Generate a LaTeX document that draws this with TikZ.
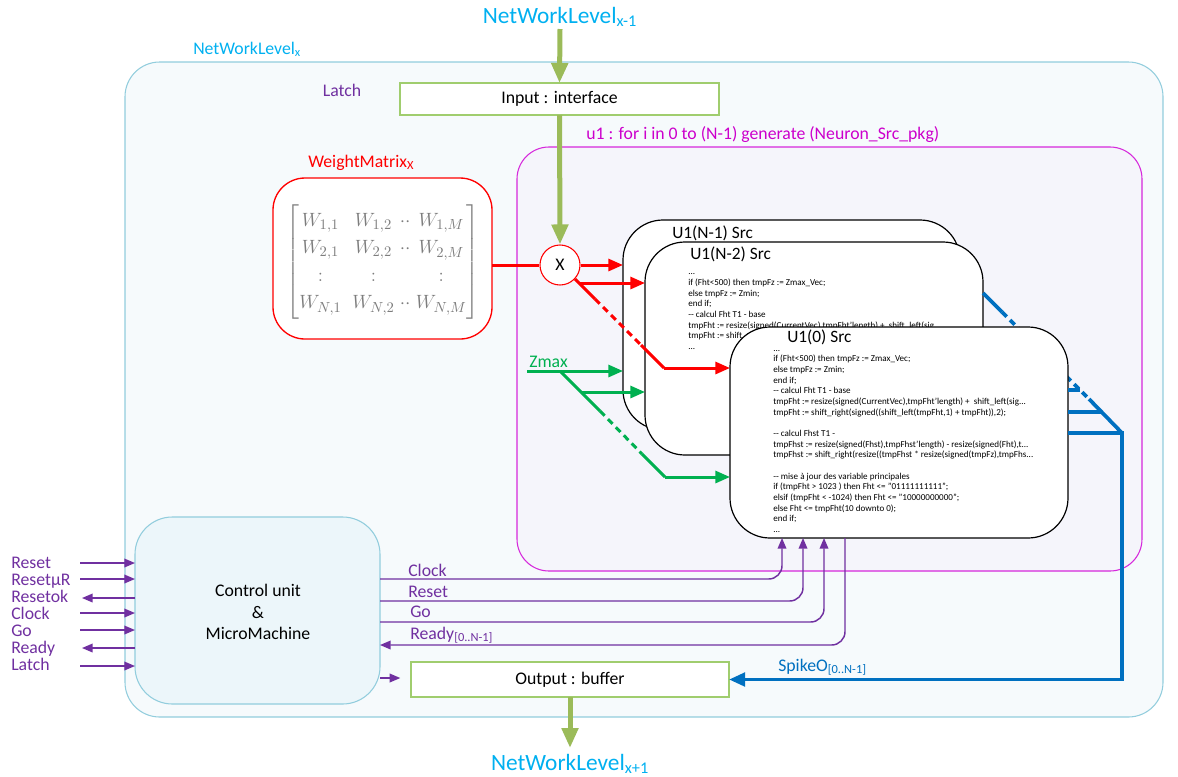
\documentclass[tikz,border=0pt]{standalone}
\usepackage{amsmath}
\usepackage{fontspec}
\setmainfont{Carlito}
\usetikzlibrary{arrows.meta,fit,calc}
\definecolor{outerln}{RGB}{146,205,221}
\definecolor{outerbg}{RGB}{246,250,252}
\definecolor{cubg}{RGB}{236,246,250}
\definecolor{magln}{RGB}{214,40,220}
\definecolor{magbg}{RGB}{245,245,251}
\definecolor{magtxt}{RGB}{204,0,204}
\definecolor{cyantxt}{RGB}{0,176,240}
\definecolor{purp}{RGB}{112,48,160}
\definecolor{netgreen}{RGB}{155,187,89}
\definecolor{iogreen}{RGB}{160,205,110}
\definecolor{zgreen}{RGB}{0,176,80}
\definecolor{spblue}{RGB}{0,112,192}
\definecolor{wmgray}{RGB}{125,125,125}
\newcommand\lblf{\fontsize{13.3}{16}\selectfont}
\newcommand\bigtf{\fontsize{17.5}{21}\selectfont}
\newcommand\titf{\fontsize{13}{15}\selectfont}
\newcommand\codef{\fontsize{6.8}{8}\selectfont}
\begin{document}
\begin{tikzpicture}[x=0.75pt,y=-0.75pt,
  plainbox/.style={inner sep=0pt,outer sep=0pt},
  outerbox/.style={plainbox,draw=outerln,fill=outerbg,line width=0.8pt,rounded corners=26pt},
  cubox/.style={plainbox,draw=outerln,fill=cubg,line width=0.8pt,rounded corners=28pt},
  magbox/.style={plainbox,draw=magln,fill=magbg,line width=0.8pt,rounded corners=24pt},
  wmbox/.style={plainbox,draw=red,fill=white,line width=1pt,rounded corners=24pt},
  iobox/.style={plainbox,draw=iogreen,fill=white,line width=0.9pt},
  srcbox/.style={plainbox,draw=black,fill=white,line width=0.9pt,rounded corners=30pt},
  lbl/.style={font=\lblf,inner sep=0pt},
  codetxt/.style={font=\codef,align=left,inner sep=0pt,anchor=north west},
  srctitle/.style={font=\titf,inner sep=0pt,anchor=base west},
  bigarrow/.style={draw=netgreen,line width=3.75pt,-{Triangle[length=15pt,width=12pt]}},
  redline/.style={draw=red,line width=2.25pt},
  redarrow/.style={redline,-{Triangle[length=11pt,width=9pt]}},
  grline/.style={draw=zgreen,line width=2.25pt},
  grarrow/.style={grline,-{Triangle[length=11pt,width=9pt]}},
  dashpart/.style={dash pattern=on 5pt off 3.5pt},
  blueline/.style={draw=spblue,line width=2.8pt},
  sig/.style={draw=purp,line width=1.1pt},
  sigarrow/.style={sig,-{Triangle[length=8pt,width=6.5pt]}}
]
\useasboundingbox (0,0) rectangle (1178,776);

% outer level box
\node[outerbox,fit={(125,62) (1163,717)}] (outer) {};
\node[lbl,text=cyantxt,anchor=base west] (lvx) at (193,54) {NetWorkLevel\textsubscript{x}};
\node[lbl,text=purp,anchor=base] (latchlbl) at (342,96) {Latch};

% top level and input
\node[font=\bigtf,text=cyantxt,anchor=base,inner sep=0pt] (toplvl) at (560,23) {NetWorkLevel\textsubscript{x-1}};
\coordinate (topa) at (560,29);
\node[iobox,fit={(400,83) (719,115)}] (in) {};
\node[lbl] (intxt) at (in) {Input : interface};
\draw[bigarrow] (topa) -- (in.north);

% generate box
\node[magbox,fit={(517,147) (1142,571)}] (gen) {};
\node[lbl,text=magtxt,anchor=base west] (genlbl) at (586,139) {u1 : for i in 0 to (N-1) generate (Neuron\_Src\_pkg)};

% weight matrix
\node[lbl,text=red,anchor=base west] (wmlbl) at (308,167) {WeightMatrix\textsubscript{X}};
\node[wmbox,fit={(273,178) (492,339)}] (wm) {};
\node[inner sep=0pt,text=wmgray,font=\fontsize{15}{18}\selectfont] (mat) at (383,262)
 {\def\arraystretch{1.15}\setlength{\arraycolsep}{4pt}%
  $\begin{bmatrix} W_{1,1} & W_{1,2} & \!\!\cdot\cdot\!\! & W_{1,M}\\
   W_{2,1} & W_{2,2} & \!\!\cdot\cdot\!\! & W_{2,M}\\
   : & : & & :\\
   W_{N,1} & W_{N,2} & \!\!\cdot\cdot\!\! & W_{N,M}\end{bmatrix}$};

% multiplier
\node[circle,draw=red,fill=white,line width=0.8pt,minimum size=30pt,inner sep=0pt,font=\lblf] (mult) at (560,265) {X};
\draw[bigarrow] (in.south) -- (mult.north);
\draw[redline] (wm.east |- mult.west) -- (mult.west);

% neuron boxes
\node[srcbox,fit={(623,220) (960,430)}] (n1) {};
\node[srctitle] (n1t) at (672,238) {U1(N-1) Src};
\node[srcbox,fit={(645,242) (983,455)}] (n2) {};
\node[srctitle] (n2t) at (690,259) {U1(N-2) Src};
\node[codetxt] (n2c) at (688,267) {\strut...\\
if (Fht<500) then tmpFz := Zmax\_Vec;\\
else tmpFz := Zmin;\\
end if;\\
-{}- calcul Fht T1 - base\\
tmpFht := resize(signed(CurrentVec),tmpFht'length) +\ \ shift\_left(sig...\\
tmpFht := shift\_right(signed((shift\_left(tmpFht,1) + tmpFht)),2);\\
...};

% spike lines (behind U1(0))
\coordinate (b1) at (1002,312);
\coordinate (b2) at (1089,399);
\coordinate (bc) at (1122,433);
\draw[blueline] (n2.east |- 0,293) -- (b1);
\draw[blueline,dashpart] (b1) -- (b2);
\draw[blueline] (b2) -- (bc);

\node[srcbox,fit={(730,327) (1068,538)}] (u0) {};
\node[srctitle] (u0t) at (787,342) {U1(0) Src};
\node[codetxt] (u0c) at (773,343.5) {\strut...\\
if (Fht<500) then tmpFz := Zmax\_Vec;\\
else tmpFz := Zmin;\\
end if;\\
-{}- calcul Fht T1 - base\\
tmpFht := resize(signed(CurrentVec),tmpFht'length) +\ \ shift\_left(sig...\\
tmpFht := shift\_right(signed((shift\_left(tmpFht,1) + tmpFht)),2);\\[8pt]
-{}- calcul Fhst T1 -\\
tmpFhst := resize(signed(Fhst),tmpFhst'length) - resize(signed(Fht),t...\\
tmpFhst := shift\_right(resize((tmpFhst * resize(signed(tmpFz),tmpFhs...\\[8pt]
-{}- mise à jour des variable principales\\
if (tmpFht > 1023 ) then Fht <= "01111111111";\\
elsif (tmpFht < -1024) then Fht <= "10000000000";\\
else Fht <= tmpFht(10 downto 0);\\
end if;\\
...};

\coordinate (h1) at (1080,390);
\coordinate (h2) at (1101,412);
\draw[blueline] (u0.east |- h1) -- (h1);
\draw[blueline] (u0.east |- h2) -- (h2);

% red weight distribution
\coordinate (r0) at (575,279);
\coordinate (r1) at (595,299);
\coordinate (r2) at (641,345);
\coordinate (r3) at (664,368);
\coordinate (r4) at (579,283);
\draw[redarrow] (mult.east) -- (n1.west |- mult.east);
\draw[redarrow] (r4) -- (n2.west |- r4);
\draw[redline] (r0) -- (r1);
\draw[redline,dashpart] (r1) -- (r2);
\draw[redline,line join=round] (r2) -- (r3);
\draw[redarrow] (r3) -- (u0.west |- r3);

% Zmax distribution
\node[lbl,text=zgreen,anchor=base west] (zmax) at (529,367) {Zmax};
\coordinate (zs) at (527,371);
\coordinate (z0) at (560,371);
\coordinate (z1) at (600,411);
\coordinate (z2) at (642,454);
\coordinate (z3) at (665,477);
\coordinate (z4) at (581,392);
\draw[grarrow] (zs) -- (n1.west |- zs);
\draw[grarrow] (z4) -- (n2.west |- z4);
\draw[grline] (z0) -- (z1);
\draw[grline,dashpart] (z1) -- (z2);
\draw[grline,line join=round] (z2) -- (z3);
\draw[grarrow] (z3) -- (u0.west |- z3);

% control unit
\node[cubox,fit={(135,517) (380,704)}] (cu) {};
\node[font=\fontsize{13.3}{16}\selectfont,align=center,inner sep=0pt] (cutxt) at (258,612) {Control unit\\\&\\MicroMachine};

% left signals
\coordinate (l1) at (80,563);
\coordinate (l2) at (80,579);
\coordinate (l3) at (82,598);
\coordinate (l4) at (80,613);
\coordinate (l5) at (80,630);
\coordinate (l6) at (82,648);
\coordinate (l7) at (80,666);
\node[lbl,text=purp,anchor=base west] (s1) at (11,568) {Reset};
\node[lbl,text=purp,anchor=base west] (s2) at (11,585) {ResetµR};
\node[lbl,text=purp,anchor=base west] (s3) at (11,602) {Resetok};
\node[lbl,text=purp,anchor=base west] (s4) at (11,619) {Clock};
\node[lbl,text=purp,anchor=base west] (s5) at (11,636) {Go};
\node[lbl,text=purp,anchor=base west] (s6) at (11,653) {Ready};
\node[lbl,text=purp,anchor=base west] (s7) at (11,670) {Latch};
\draw[sigarrow] (l1) -- (cu.west |- l1);
\draw[sigarrow] (l2) -- (cu.west |- l2);
\draw[sigarrow] (cu.west |- l3) -- (l3);
\draw[sigarrow] (l4) -- (cu.west |- l4);
\draw[sigarrow] (l5) -- (cu.west |- l5);
\draw[sigarrow] (cu.west |- l6) -- (l6);
\draw[sigarrow] (l7) -- (cu.west |- l7);

% right signals
\draw[sigarrow,rounded corners=10pt] (cu.east |- 0,579) -| (u0.south -| 782,0);
\draw[sigarrow,rounded corners=10pt] (cu.east |- 0,601) -| (u0.south -| 803,0);
\draw[sigarrow,rounded corners=10pt] (cu.east |- 0,622) -| (u0.south -| 824,0);
\draw[sigarrow,rounded corners=10pt] (u0.south -| 845,0) |- (cu.east |- 0,645);
\node[lbl,text=purp,anchor=base west] (clk) at (408,576) {Clock};
\node[lbl,text=purp,anchor=base west] (rst) at (408,597) {Reset};
\node[lbl,text=purp,anchor=base west] (go) at (410,617) {Go};
\node[lbl,text=purp,anchor=base west] (rdy) at (410,639) {Ready\textsubscript{[0..N-1]}};

% output
\node[iobox,fit={(411,662) (729,697)}] (out) {};
\node[lbl] (outtxt) at (out) {Output : buffer};
\draw[sigarrow,shorten >=8pt] (cu.east |- 0,678) -- (out.west |- 0,678);
\draw[blueline,-{Triangle[length=12pt,width=10pt]}] (u0.east |- bc) -- (bc) -- (bc |- out.east) -- (out.east);
\node[lbl,text=spblue,anchor=base west] (spk) at (778,671) {SpikeO\textsubscript{[0..N-1]}};
\coordinate (nxt) at (570,748);
\draw[bigarrow] (out.south) -- (nxt);
\node[font=\bigtf,text=cyantxt,anchor=base,inner sep=0pt] (botlvl) at (570,770) {NetWorkLevel\textsubscript{x+1}};
\end{tikzpicture}
\end{document}
